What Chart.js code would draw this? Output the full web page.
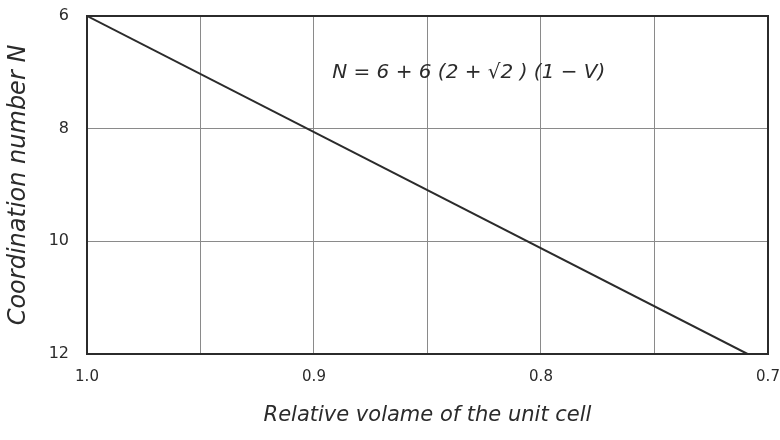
<!DOCTYPE html>
<html>
<head>
<meta charset="utf-8">
<script src="https://cdn.jsdelivr.net/npm/chart.js@4/dist/chart.umd.min.js"></script>
<style>
  html, body { margin: 0; padding: 0; background: #fff; }
  #wrap { width: 780px; height: 440px; }
</style>
</head>
<body>
<div id="wrap"><canvas id="myChart" width="780" height="440"></canvas></div>
<script>
// relative volume V of the unit cell and coordination number N
const volume = [1.0, 0.709]
const coordination = [6, 12]

const xTicks = [1.0, 0.9, 0.8, 0.7]
const yTicks = [6, 8, 10, 12]

const formulaText = 'N = 6 + 6 (2 + √2 ) (1 − V)'
const formulaAt = [0.892, 7.0]

const ink = '#2b2b2b'

// writes the formula inside the plot, placed in data coordinates
const formulaLabel = {
    id: 'formulaLabel',
    afterDatasetsDraw(chart) {
        const { ctx, scales } = chart
        const px = scales.x.getPixelForValue(formulaAt[0])
        const py = scales.y.getPixelForValue(formulaAt[1])
        ctx.save()
        ctx.font = 'italic 20px "DejaVu Sans"'
        ctx.fillStyle = ink
        ctx.textAlign = 'left'
        ctx.textBaseline = 'middle'
        ctx.fillText(formulaText, px, py)
        ctx.restore()
    }
}

// closes the frame round the plot area
const frame = {
    id: 'frame',
    afterDraw(chart) {
        const { ctx, chartArea: a } = chart
        ctx.save()
        ctx.strokeStyle = ink
        ctx.lineWidth = 2
        ctx.strokeRect(a.left, a.top, a.right - a.left, a.bottom - a.top)
        ctx.restore()
    }
}

const createChart = () => {
    const ctx = document.getElementById('myChart')

    const data = {
        datasets: [{
            label: 'N',
            data: volume.map((v, i) => ({ x: v, y: coordination[i] })),
            borderColor: ink,
            borderWidth: 2,
            pointRadius: 0,
            fill: false
        }]
    }

    new Chart(ctx, {
        type: 'line',
        data: data,
        plugins: [formulaLabel, frame],
        options: {
            responsive: false,
            animation: false,
            layout: { padding: { top: 16, right: 12, left: 0, bottom: 0 } },
            plugins: {
                legend: { display: false },
                tooltip: { enabled: false }
            },
            scales: {
                x: {
                    type: 'linear',
                    reverse: true,
                    min: 0.7,
                    max: 1.0,
                    afterFit: (scale) => {
                        scale.height = 86
                        scale.paddingLeft = 0
                        scale.paddingRight = 0
                    },
                    afterBuildTicks: (scale) => {
                        scale.ticks = [1.0, 0.95, 0.9, 0.85, 0.8, 0.75, 0.7].map(v => ({ value: v }))
                    },
                    grid: { color: '#8a8a8a', lineWidth: 1, drawTicks: false },
                    border: { color: ink, width: 2 },
                    ticks: {
                        padding: 14,
                        color: ink,
                        font: { family: '"DejaVu Sans"', size: 15 },
                        maxRotation: 0,
                        autoSkip: false,
                        callback: (v) => {
                            const hit = xTicks.find(t => Math.abs(t - v) < 1e-6)
                            return hit === undefined ? '' : hit.toFixed(1)
                        }
                    },
                    title: {
                        display: true,
                        text: 'Relative volame of the unit cell',
                        color: ink,
                        font: { family: '"DejaVu Sans"', size: 21, style: 'italic' },
                        padding: { top: 8, bottom: 12 }
                    }
                },
                y: {
                    type: 'linear',
                    reverse: true,
                    min: 6,
                    max: 12,
                    afterFit: (scale) => {
                        scale.width = 87
                        scale.paddingTop = 0
                        scale.paddingBottom = 0
                    },
                    afterBuildTicks: (scale) => {
                        scale.ticks = yTicks.map(v => ({ value: v }))
                    },
                    grid: { color: '#8a8a8a', lineWidth: 1, drawTicks: false },
                    border: { color: ink, width: 2 },
                    ticks: {
                        padding: 18,
                        color: ink,
                        font: { family: '"DejaVu Sans"', size: 16 }
                    },
                    title: {
                        display: true,
                        text: 'Coordination number N',
                        color: ink,
                        font: { family: '"DejaVu Sans"', size: 24, style: 'italic' },
                        padding: { bottom: 2 }
                    }
                }
            }
        }
    })
}

createChart()
</script>
</body>
</html>
